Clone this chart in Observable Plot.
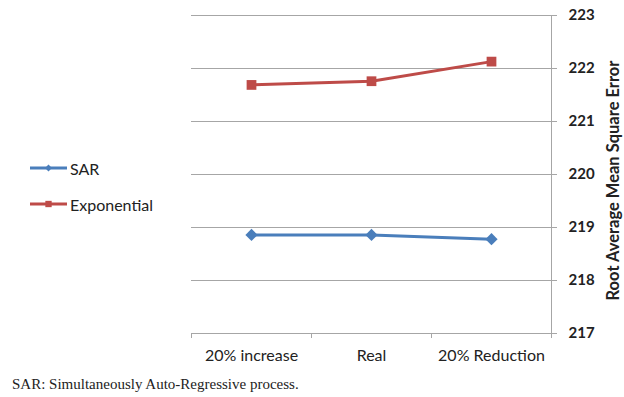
<!DOCTYPE html>
<html>
<head>
<meta charset="utf-8">
<script src="https://cdn.jsdelivr.net/npm/d3@7"></script>
<script src="https://cdn.jsdelivr.net/npm/@observablehq/plot@0.6"></script>
<style>
  html, body { margin: 0; padding: 0; background: #fff; }
  #wrap { position: relative; width: 624px; height: 397px; overflow: hidden; }
  .legend { position: absolute; left: 30px; font-family: Lato, sans-serif; font-size: 16px; color: #222; display: flex; align-items: center; }
  .caption { position: absolute; left: 12px; top: 376px; font-family: "Liberation Serif", "DejaVu Serif", serif; font-size: 15px; color: #222; white-space: nowrap; }
</style>
</head>
<body>
<div id="wrap"></div>
<script>
const categories = ["20% increase", "Real", "20% Reduction"];
const sar = [218.86, 218.86, 218.78];
const exponential = [221.69, 221.76, 222.13];
const yTicks = [217, 218, 219, 220, 221, 222, 223];
const seriesNames = ["SAR", "Exponential"];
const seriesColors = ["#4a7ebb", "#be4b48"];
const seriesSymbols = ["diamond2", "square"];
const axisTitle = "Root Average Mean Square Error";
const captionText = "SAR: Simultaneously Auto-Regressive process.";

const rows = [];
[sar, exponential].forEach((vals, s) => {
  vals.forEach((v, i) => rows.push({x: i + 0.5, y: v, series: seriesNames[s]}));
});

const grid = "#a6a6a6";

const chart = Plot.plot({
  width: 624,
  height: 370,
  marginLeft: 191,
  marginRight: 73,
  marginTop: 15,
  marginBottom: 37,
  style: {fontFamily: "Lato, sans-serif", fontSize: "16px", color: "#222", background: "#fff"},
  x: {type: "linear", domain: [0, categories.length], label: null},
  y: {domain: [yTicks[0], yTicks[yTicks.length - 1]], label: null},
  color: {domain: seriesNames, range: seriesColors},
  symbol: {domain: seriesNames, range: seriesSymbols},
  marks: [
    Plot.gridY(yTicks.slice(1), {stroke: grid, strokeOpacity: 1}),
    Plot.ruleY([yTicks[0]], {stroke: grid}),
    Plot.ruleX([categories.length], {stroke: grid}),
    Plot.axisX(d3.range(categories.length + 1), {tickSize: 5, tickFormat: () => "", stroke: grid, label: null}),
    Plot.axisX(categories.map((c, i) => i + 0.5), {tickSize: 0, tickPadding: 16, tickFormat: d => categories[Math.floor(d)], label: null, fill: "#222"}),
    Plot.axisY(yTicks, {anchor: "right", tickSize: 5, tickPadding: 12, tickFormat: "d", stroke: grid, fill: "#222", fontWeight: "bold", fontSize: 15, label: null}),
    Plot.text([axisTitle], {frameAnchor: "right", dx: 62, dy: 6, rotate: -90, textAnchor: "middle", fontWeight: "bold", fontSize: 16.5, fill: "#222"}),
    Plot.line(rows, {x: "x", y: "y", stroke: "series", strokeWidth: 3}),
    Plot.dot(rows, {x: "x", y: "y", fill: "series", symbol: "series", r: 5.5, stroke: "none"})
  ]
});

const wrap = document.getElementById("wrap");
wrap.appendChild(chart);

seriesNames.forEach((name, i) => {
  const div = document.createElement("div");
  div.className = "legend";
  div.style.top = (i === 0 ? 158 : 194) + "px";
  const svgNS = "http://www.w3.org/2000/svg";
  const svg = document.createElementNS(svgNS, "svg");
  svg.setAttribute("width", 40);
  svg.setAttribute("height", 20);
  const line = document.createElementNS(svgNS, "line");
  line.setAttribute("x1", 0); line.setAttribute("x2", 37);
  line.setAttribute("y1", 10); line.setAttribute("y2", 10);
  line.setAttribute("stroke", seriesColors[i]); line.setAttribute("stroke-width", 3);
  svg.appendChild(line);
  const sym = document.createElementNS(svgNS, "path");
  const p = d3.symbol(i === 0 ? d3.symbolDiamond2 : d3.symbolSquare, i === 0 ? 30 : 40)();
  sym.setAttribute("d", p);
  sym.setAttribute("transform", "translate(18.5,10)");
  sym.setAttribute("fill", seriesColors[i]);
  svg.appendChild(sym);
  div.appendChild(svg);
  const span = document.createElement("span");
  span.textContent = name;
  div.appendChild(span);
  wrap.appendChild(div);
});

const cap = document.createElement("div");
cap.className = "caption";
cap.textContent = captionText;
wrap.appendChild(cap);
</script>
</body>
</html>
